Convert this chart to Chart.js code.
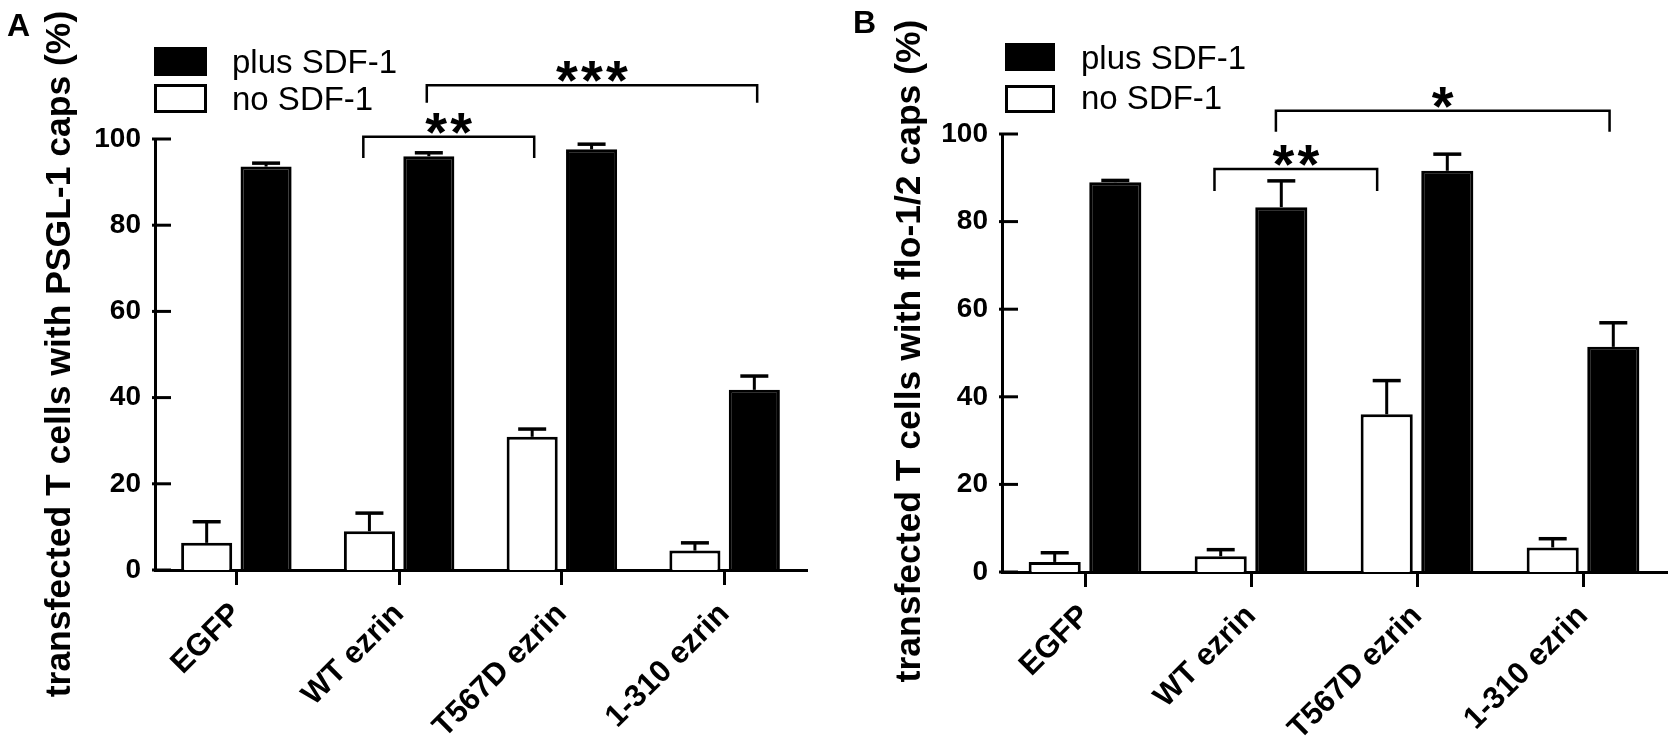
<!DOCTYPE html>
<html>
<head>
<meta charset="utf-8">
<script src="https://cdn.jsdelivr.net/npm/chart.js@4.4.1/dist/chart.umd.min.js"></script>
<style>
  body { margin: 0; background: #fff; }
  #wrap { position: relative; width: 1671px; height: 756px; }
  canvas { position: absolute; top: 0; }
</style>
</head>
<body>
<div id="wrap">
  <canvas id="chartA" width="835" height="756" style="left:0"></canvas>
  <canvas id="chartB" width="836" height="756" style="left:835px"></canvas>
</div>
<script>
const FONT = '"Liberation Sans", Arial, sans-serif';

const categories = ['EGFP', 'WT ezrin', 'T567D ezrin', '1-310 ezrin'];
const yTicks = [0, 20, 40, 60, 80, 100];

// panel A - PSGL-1 caps (mean, upper SEM)
const noSdfA = [6.3, 9.0, 30.9, 4.5];
const noSdfErrA = [4.9, 4.2, 1.8, 1.8];
const plusSdfA = [93.6, 96.0, 97.6, 41.8];
const plusSdfErrA = [0.8, 0.8, 1.2, 3.2];

// panel B - flo-1/2 caps
const noSdfB = [2.3, 3.6, 36.0, 5.6];
const noSdfErrB = [2.1, 1.5, 7.7, 2.0];
const plusSdfB = [89.0, 83.3, 91.6, 51.4];
const plusSdfErrB = [0.4, 6.0, 3.8, 5.5];

// significance brackets, ends in category units, heights in %
const bracketsA = [
  { from: 0.78, to: 1.83, level: 100.5, leg: 95.6, stars: 2 },
  { from: 1.17, to: 3.2, level: 112.5, leg: 108.4, stars: 3 }
];
const bracketsB = [
  { from: 0.78, to: 1.76, level: 92, leg: 87, stars: 2 },
  { from: 1.15, to: 3.16, level: 105.3, leg: 100.5, stars: 1 }
];

const figurePlugin = {
  id: 'figure',
  afterDatasetsDraw(chart) {
    const ctx = chart.ctx;
    const y = chart.scales.y;
    // error bars, upper half only
    chart.data.datasets.forEach((ds, i) => {
      chart.getDatasetMeta(i).data.forEach((bar, j) => {
        const top = y.getPixelForValue(ds.data[j] + ds.errors[j]);
        ctx.save();
        ctx.strokeStyle = '#000';
        ctx.lineWidth = 3;
        ctx.beginPath();
        ctx.moveTo(bar.x, bar.y);
        ctx.lineTo(bar.x, top);
        ctx.stroke();
        ctx.lineWidth = 3.5;
        ctx.beginPath();
        ctx.moveTo(bar.x - 14, top);
        ctx.lineTo(bar.x + 14, top);
        ctx.stroke();
        ctx.restore();
      });
    });
  },
  afterDraw(chart, args, o) {
    const ctx = chart.ctx;
    const x = chart.scales.x, y = chart.scales.y;
    ctx.save();
    ctx.strokeStyle = '#000';
    ctx.fillStyle = '#000';

    // y tick marks pointing into the plot
    ctx.lineWidth = 3;
    yTicks.forEach(v => {
      const py = y.getPixelForValue(v);
      ctx.beginPath();
      ctx.moveTo(y.right - 3, py);
      ctx.lineTo(y.right + 16, py);
      ctx.stroke();
    });

    // brackets and stars
    o.brackets.forEach(b => {
      const x1 = x.getPixelForValue(b.from), x2 = x.getPixelForValue(b.to);
      const yl = y.getPixelForValue(b.level), yb = y.getPixelForValue(b.leg);
      ctx.lineWidth = 2.5;
      ctx.beginPath();
      ctx.moveTo(x1, yb);
      ctx.lineTo(x1, yl);
      ctx.lineTo(x2, yl);
      ctx.lineTo(x2, yb);
      ctx.stroke();
      ctx.font = 'bold 56px ' + FONT;
      ctx.textAlign = 'center';
      ctx.textBaseline = 'alphabetic';
      const cx = (x1 + x2) / 2;
      for (let k = 0; k < b.stars; k++) {
        ctx.fillText('*', cx + (k - (b.stars - 1) / 2) * 25, yl + 14);
      }
    });

    // y axis title
    ctx.save();
    ctx.translate(o.titleX, o.titleY);
    ctx.rotate(-Math.PI / 2);
    ctx.font = 'bold 35.5px ' + FONT;
    ctx.textAlign = 'center';
    ctx.textBaseline = 'middle';
    ctx.fillText(o.title, 0, 0);
    ctx.restore();

    // legend
    const L = o.legend;
    ctx.fillRect(L.x, L.y1, L.w, L.h);
    ctx.lineWidth = 3;
    ctx.strokeRect(L.x + 1.5, L.y2 + 1.5, L.w - 3, L.h - 3);
    ctx.font = '33px ' + FONT;
    ctx.textAlign = 'left';
    ctx.fillText('plus SDF-1', L.textX, L.base1);
    ctx.fillText('no SDF-1', L.textX, L.base2);

    // panel letter
    ctx.font = 'bold 32px ' + FONT;
    ctx.fillText(o.panel, o.panelX, o.panelY);
    ctx.restore();
  }
};

function makeChart(id, s) {
  const barOpts = { borderColor: '#000', borderWidth: 3, categoryPercentage: 0.73, barPercentage: 0.86 };
  return new Chart(document.getElementById(id), {
    type: 'bar',
    data: {
      labels: categories,
      datasets: [
        Object.assign({ label: 'no SDF-1', data: s.no, errors: s.noErr, backgroundColor: '#fff' }, barOpts),
        Object.assign({ label: 'plus SDF-1', data: s.plus, errors: s.plusErr, backgroundColor: '#000' }, barOpts)
      ]
    },
    options: {
      responsive: false,
      animation: false,
      devicePixelRatio: 1,
      layout: { padding: s.padding },
      plugins: {
        legend: { display: false },
        tooltip: { enabled: false },
        figure: s.figure
      },
      scales: {
        x: {
          grid: { drawOnChartArea: false, offset: false, tickLength: 15, lineWidth: 3, color: '#000' },
          border: { color: '#000', width: 3 },
          ticks: {
            color: '#000', autoSkip: false, minRotation: 45, maxRotation: 45, padding: 11,
            font: { family: FONT, size: 31, weight: 'bold' }
          },
          afterFit: sc => { sc.height = s.xHeight; }
        },
        y: {
          min: 0, max: 100,
          grid: { display: false },
          border: { color: '#000', width: 3 },
          ticks: { color: '#000', padding: 6, font: { family: FONT, size: 28, weight: 'bold' } },
          afterBuildTicks: sc => { sc.ticks = yTicks.map(v => ({ value: v })); },
          afterFit: sc => { sc.width = s.yWidth; }
        }
      }
    },
    plugins: [figurePlugin]
  });
}

makeChart('chartA', {
  no: noSdfA, noErr: noSdfErrA, plus: plusSdfA, plusErr: plusSdfErrA,
  padding: { top: 139, right: 29, left: 0, bottom: 0 },
  xHeight: 186, yWidth: 155,
  figure: {
    panel: 'A', panelX: 7, panelY: 36,
    title: 'transfected T cells with PSGL-1 caps (%)', titleX: 60, titleY: 354,
    legend: { x: 154, y1: 47, y2: 84, w: 53, h: 29, textX: 232, base1: 73, base2: 110 },
    brackets: bracketsA
  }
});

makeChart('chartB', {
  no: noSdfB, noErr: noSdfErrB, plus: plusSdfB, plusErr: plusSdfErrB,
  padding: { top: 134, right: 5, left: 0, bottom: 0 },
  xHeight: 184, yWidth: 167,
  figure: {
    panel: 'B', panelX: 18, panelY: 33,
    title: 'transfected T cells with flo-1/2 caps (%)', titleX: 75, titleY: 351,
    legend: { x: 170, y1: 43, y2: 85, w: 50, h: 28, textX: 246, base1: 69, base2: 109 },
    brackets: bracketsB
  }
});
</script>
</body>
</html>
